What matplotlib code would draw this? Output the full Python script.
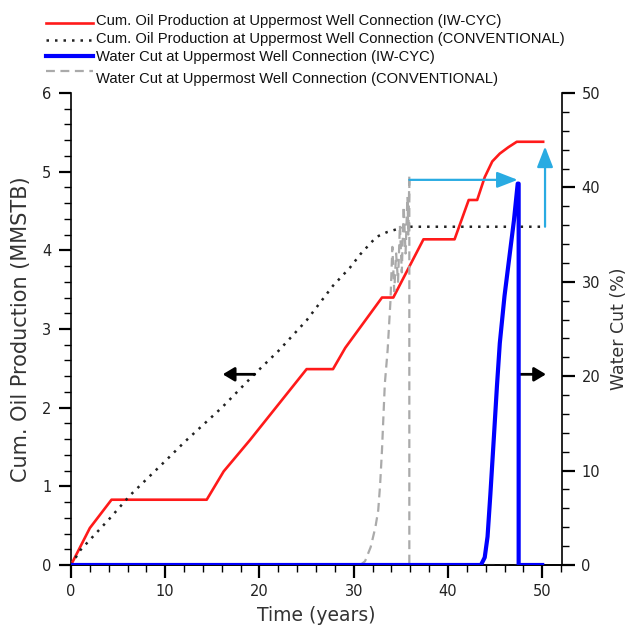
import matplotlib
matplotlib.use("Agg")
import matplotlib.pyplot as plt
from matplotlib.lines import Line2D
from matplotlib.ticker import MultipleLocator

# ---- data ----
t_oil_cyc = [0, 2.0, 4.3, 14.4, 16.2, 19.0, 25.0, 27.8, 29.1, 33.0, 34.2, 37.4, 40.7,
             42.2, 43.1, 43.9, 44.7, 45.5, 46.4, 47.3, 50.1]
oil_cyc = [0, 0.47, 0.83, 0.83, 1.19, 1.59, 2.49, 2.49, 2.76, 3.40, 3.40, 4.14, 4.14,
           4.64, 4.64, 4.93, 5.13, 5.23, 5.31, 5.38, 5.38]

t_oil_conv = [0, 1.0, 4.1, 6.3, 10.5, 12.1, 16.0, 19.5, 22.0, 25.0, 27.8, 29.6, 30.7,
              32.4, 33.5, 34.9, 36.0, 50.1]
oil_conv = [0, 0.19, 0.59, 0.89, 1.38, 1.57, 2.00, 2.43, 2.72, 3.11, 3.55, 3.78, 3.95,
            4.17, 4.23, 4.28, 4.30, 4.30]

t_wc_cyc = [0, 43.5, 43.9, 44.2, 44.5, 44.9, 45.2, 45.5, 46.0, 46.5, 47.0, 47.4, 47.5, 47.5, 50.0]
wc_cyc = [0, 0, 0.8, 3.0, 7.5, 14.0, 19.0, 23.5, 28.5, 32.5, 36.5, 40.4, 40.4, 0, 0]

t_wc_conv = [0, 30.7, 31.2, 31.8, 32.3, 32.6, 32.8, 33.0, 33.3, 33.6, 33.9, 34.1, 34.3,
             34.5, 34.7, 34.9, 35.1, 35.3, 35.5, 35.7, 35.8, 35.9, 35.9, 50.0]
wc_conv = [0, 0, 0.4, 1.9, 4.0, 5.8, 8.5, 12.2, 19.2, 22.8, 28.0, 33.7, 29.0,
           33.0, 30.0, 36.0, 31.0, 38.0, 33.0, 39.0, 35.0, 41.3, 0, 0]

legend_labels = ["Cum. Oil Production at Uppermost Well Connection (IW-CYC)",
                 "Cum. Oil Production at Uppermost Well Connection (CONVENTIONAL)",
                 "Water Cut at Uppermost Well Connection (IW-CYC)",
                 "Water Cut at Uppermost Well Connection (CONVENTIONAL)"]

x_ticks = [0, 10, 20, 30, 40, 50]
y_left_ticks = [0, 1, 2, 3, 4, 5, 6]
y_right_ticks = [0, 10, 20, 30, 40, 50]

# annotation arrow anchors
arrow_level_wc = 20.2
left_arrow_from, left_arrow_to = 19.5, 16.1
right_arrow_from, right_arrow_to = 47.5, 50.4
vert_arrow_t = 50.3

# ---- styles ----
RED = "#ff1a1a"
BLUE = "#0000ff"
GRAY = "#aaaaaa"
CYAN = "#29abe2"
DOT = (0, (1, 2.4))
DASH = (0, (4, 2.5))

fig = plt.figure(figsize=(6.31, 6.25), dpi=100)
ax = fig.add_axes([71 / 631, 60 / 625, (562 - 71) / 631, (565 - 93) / 625])
ax2 = ax.twinx()

ax.plot(t_oil_cyc, oil_cyc, color=RED, lw=1.9, zorder=3)
ax.plot(t_oil_conv, oil_conv, color="#222222", lw=1.8, ls=DOT, zorder=3)
ax2.plot(t_wc_conv, wc_conv, color=GRAY, lw=1.6, ls=DASH, zorder=2)
ax2.plot(t_wc_cyc, wc_cyc, color=BLUE, lw=3, zorder=3)

ax.set_xlim(0, 52.1)
ax.set_ylim(0, 6)
ax2.set_ylim(0, 50)

ax.set_xticks(x_ticks)
ax.set_yticks(y_left_ticks)
ax2.set_yticks(y_right_ticks)
ax.xaxis.set_minor_locator(MultipleLocator(2))
ax.yaxis.set_minor_locator(MultipleLocator(0.2))
ax2.yaxis.set_minor_locator(MultipleLocator(2))

for a in (ax, ax2):
    a.spines["top"].set_visible(False)
    a.tick_params(which="major", direction="out", length=9, width=1.6, labelsize=10.5,
                  pad=5, labelcolor="#222222")
    a.tick_params(which="minor", direction="out", length=5, width=1.0)
    for s in a.spines.values():
        s.set_linewidth(1.2)
ax2.spines["left"].set_visible(False)
ax.spines["right"].set_visible(False)
ax2.tick_params(axis="x", which="both", bottom=False, labelbottom=False)

ax.set_xlabel("Time (years)", fontsize=13.5, color="#333333", labelpad=5)
ax.set_ylabel("Cum. Oil Production (MMSTB)", fontsize=15, color="#333333", labelpad=8)
ax2.set_ylabel("Water Cut (%)", fontsize=12.5, color="#333333", labelpad=7)

# arrows
yl = arrow_level_wc * 6 / 50
black_arrow = dict(arrowstyle="-|>,head_length=0.5,head_width=0.3", color="black", lw=2,
                   mutation_scale=14, shrinkA=0, shrinkB=0)
ax.annotate("", xy=(left_arrow_to, yl), xytext=(left_arrow_from, yl),
            arrowprops=black_arrow, zorder=5)
ax.annotate("", xy=(right_arrow_to, yl), xytext=(right_arrow_from, yl),
            arrowprops=black_arrow, zorder=5)
peak_conv = max(wc_conv)
t_peak_conv = t_wc_conv[wc_conv.index(peak_conv)]
t_peak_cyc = t_wc_cyc[wc_cyc.index(max(wc_cyc))]
cyan_arrow = dict(arrowstyle="-|>,head_length=0.9,head_width=0.35", color=CYAN, lw=1.6,
                  mutation_scale=14, shrinkA=0, shrinkB=0)
ax2.annotate("", xy=(t_peak_cyc, peak_conv - 0.5), xytext=(t_peak_conv, peak_conv - 0.5),
             arrowprops=cyan_arrow, zorder=5)
ax.annotate("", xy=(vert_arrow_t, oil_cyc[-1] - 0.06), xytext=(vert_arrow_t, oil_conv[-1]),
            arrowprops=cyan_arrow, zorder=5)

# legend (drawn manually to mimic the layout)
leg_styles = [dict(color=RED, lw=1.9, ls="-"),
              dict(color="#222222", lw=1.8, ls=DOT),
              dict(color=BLUE, lw=3, ls="-"),
              dict(color=GRAY, lw=1.6, ls=DASH)]
line_y = [23, 40, 56, 71]
text_y = [21, 39, 57, 79]
for lbl, st, ly, ty in zip(legend_labels, leg_styles, line_y, text_y):
    fig.add_artist(Line2D([46 / 631, 93 / 631], [1 - ly / 625, 1 - ly / 625],
                          transform=fig.transFigure, **st))
    fig.text(96 / 631, 1 - ty / 625, lbl, fontsize=10.6, family="Liberation Sans",
             va="center", ha="left", color="#111111")

fig.savefig("out.png", dpi=100)
